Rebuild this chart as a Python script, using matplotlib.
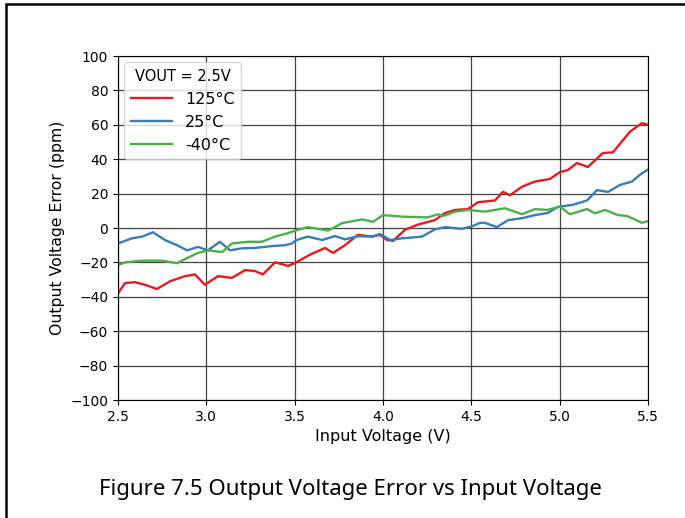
import matplotlib.pyplot as plt
from matplotlib.patches import Rectangle

# Data (input voltage in V, error in ppm)
v_125 = [2.5, 2.54, 2.596, 2.653, 2.72, 2.794, 2.879, 2.936, 2.992, 3.066, 3.145, 3.219,
         3.275, 3.32, 3.389, 3.462, 3.50, 3.587, 3.672, 3.717, 3.785, 3.858, 3.938, 3.983,
         4.023, 4.057, 4.125, 4.198, 4.294, 4.351, 4.408, 4.481, 4.538, 4.634, 4.679, 4.719,
         4.787, 4.86, 4.945, 5.002, 5.047, 5.098, 5.16, 5.245, 5.302, 5.398, 5.466, 5.5]
e_125 = [-38, -32, -31.5, -33, -35.5, -31, -28, -27, -33, -28, -29, -24.5,
         -25, -27, -20, -22, -20.5, -15.5, -11.6, -14.5, -10, -4, -5, -4,
         -7, -7.5, -1, 2, 4.6, 8.7, 10.5, 11, 15, 16, 21, 19,
         24, 27, 28.5, 32.5, 33.7, 37.8, 35.5, 43.6, 44, 56, 61, 60]

v_25 = [2.5, 2.579, 2.636, 2.698, 2.766, 2.834, 2.891, 2.953, 3.009, 3.077, 3.134, 3.202,
        3.275, 3.372, 3.445, 3.485, 3.51, 3.575, 3.655, 3.728, 3.785, 3.858, 3.938, 3.983,
        4.04, 4.107, 4.221, 4.294, 4.351, 4.447, 4.504, 4.549, 4.577, 4.645, 4.708, 4.787,
        4.86, 4.934, 4.99, 5.075, 5.155, 5.211, 5.274, 5.341, 5.409, 5.455, 5.5]
e_25 = [-9, -6, -5, -2.5, -7, -10, -13, -11, -13, -8, -13, -11.8,
        -11.6, -10.5, -10, -9, -7, -5, -7, -4.7, -6.6, -4.8, -5, -3.5,
        -7, -6, -5, -0.8, 0.5, -0.5, 1, 3, 3, 0.5, 4.6, 5.7,
        7.5, 8.8, 12.3, 13.5, 16, 22, 21, 25, 27, 31, 34]

v_m40 = [2.5, 2.54, 2.636, 2.749, 2.834, 2.891, 2.953, 3.009, 3.089, 3.145, 3.236, 3.315,
         3.389, 3.462, 3.519, 3.575, 3.689, 3.768, 3.881, 3.943, 4.0, 4.125, 4.255, 4.311,
         4.34, 4.408, 4.481, 4.577, 4.69, 4.787, 4.86, 4.928, 5.002, 5.058, 5.155, 5.2,
         5.257, 5.33, 5.381, 5.466, 5.5]
e_m40 = [-21.5, -20, -19, -19, -20.5, -17.5, -14.5, -13, -14, -9, -8, -8,
         -5, -3, -1, 0.5, -1.5, 2.8, 5, 3.6, 7.5, 6.5, 6.2, 8,
         7, 9.5, 10.5, 9.5, 11.5, 8, 11, 10.5, 12.4, 8, 11, 8.5,
         10.5, 7.5, 7, 3, 4]

labels = ['125°C', '25°C', '-40°C']
colors = ['#e41a1c', '#377eb8', '#4daf4a']

fig = plt.figure(figsize=(6.85, 5.18), dpi=100)
ax = fig.add_axes([118/685, 1 - 400/518, (648 - 118)/685, (400 - 56)/518])

ax.plot(v_125, e_125, color=colors[0], lw=1.7, label=labels[0])
ax.plot(v_25, e_25, color=colors[1], lw=1.7, label=labels[1])
ax.plot(v_m40, e_m40, color=colors[2], lw=1.7, label=labels[2])

ax.set_xlim(2.5, 5.5)
ax.set_ylim(-100, 100)
ax.set_xticks([2.5, 3.0, 3.5, 4.0, 4.5, 5.0, 5.5])
ax.set_yticks(range(-100, 101, 20))
ax.tick_params(labelsize=10)
ax.grid(True, color='#222222', lw=0.9, alpha=0.85)
ax.set_xlabel('Input Voltage (V)', fontsize=11.5)
ax.set_ylabel('Output Voltage Error (ppm)', fontsize=11.3)

leg = ax.legend(title='VOUT = 2.5V', loc='upper left', fontsize=11.5, title_fontsize=10.5,
                handlelength=2.6, borderaxespad=0.4)

# caption and page frame
fig.text(350/685, 1 - 490/518, 'Figure 7.5 Output Voltage Error vs Input Voltage',
         ha='center', va='center', fontsize=16, family='Noto Sans')
fig.patches.append(Rectangle((6/685, -0.1), 1.2, 1 - 4/518 + 0.1, transform=fig.transFigure,
                             fill=False, edgecolor='black', lw=1.8))

fig.savefig('out.png', dpi=100)
